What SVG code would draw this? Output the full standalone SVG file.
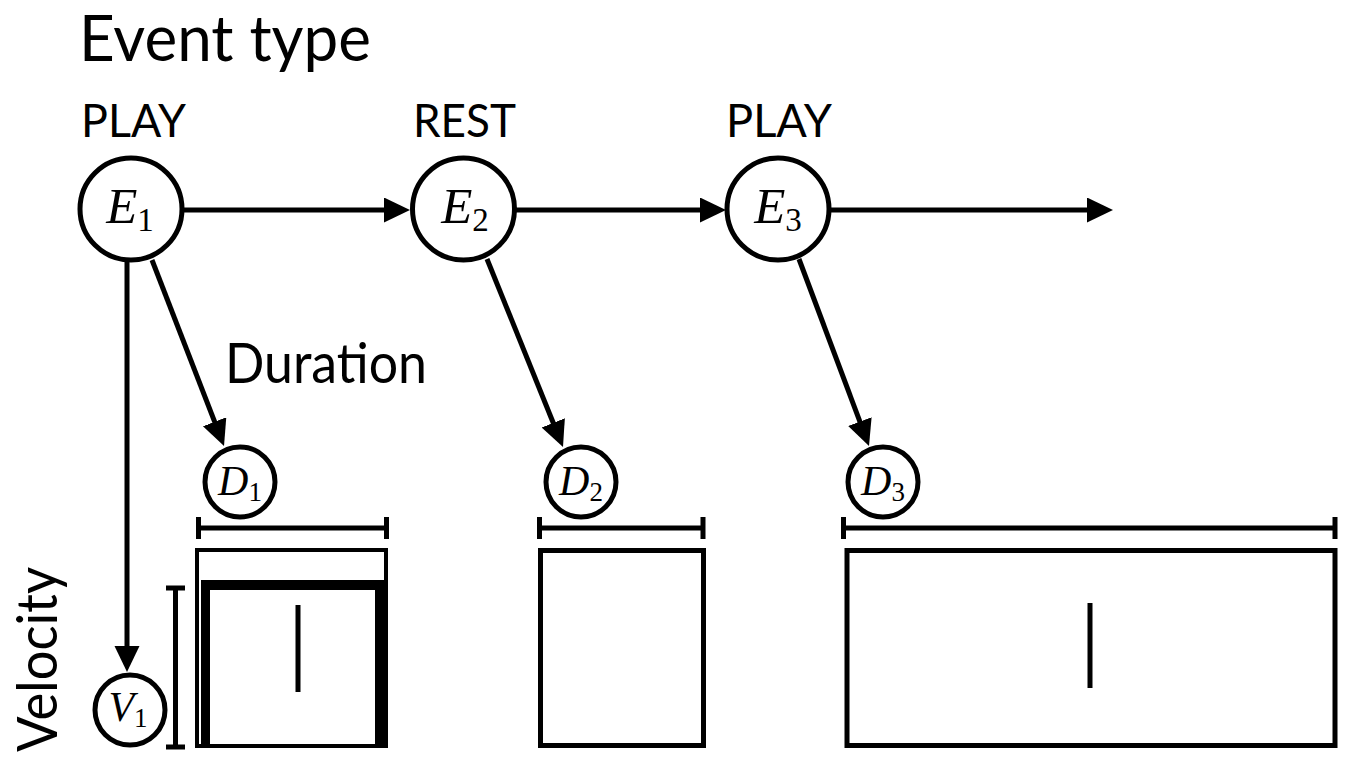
<svg xmlns="http://www.w3.org/2000/svg" width="1347" height="757" viewBox="0 0 1347 757">
<style>
.sans{font-family:Lato,"Open Sans","Liberation Sans",sans-serif;fill:#000}
.m{font-family:"Liberation Serif","DejaVu Serif",serif;fill:#000}
.it{font-style:italic}
.node{fill:#fff;stroke:#000;stroke-width:5}
.edge{fill:none;stroke:#000;stroke-width:5}
.bar{fill:none;stroke:#000;stroke-width:5}
.box{fill:#fff;stroke:#000;stroke-width:5}
</style>
<defs>
<marker id="ah" markerUnits="userSpaceOnUse" markerWidth="27" markerHeight="26" refX="16" refY="12.5" orient="auto">
<path d="M0,0 L26,12.5 L0,25 z" fill="#000"/>
</marker>
</defs>
<rect width="1347" height="757" fill="#fff"/>
<text class="sans" x="79" y="61" font-size="64" textLength="292" lengthAdjust="spacingAndGlyphs">Event type</text>
<g id="connectors">
<line class="edge" x1="182" y1="210" x2="400" y2="210" marker-end="url(#ah)"/>
<line class="edge" x1="515" y1="210" x2="716" y2="210" marker-end="url(#ah)"/>
<line class="edge" x1="829" y1="210" x2="1103" y2="210" marker-end="url(#ah)"/>
<line class="edge" x1="127" y1="262" x2="127" y2="662" marker-end="url(#ah)"/>
<line class="edge" x1="152" y1="260" x2="220.4" y2="436.7" marker-end="url(#ah)"/>
<line class="edge" x1="487" y1="259" x2="559.25" y2="437.7" marker-end="url(#ah)"/>
<line class="edge" x1="799" y1="259" x2="865.5" y2="436.6" marker-end="url(#ah)"/>
</g>
<g id="E1">
<text class="sans" x="81" y="137" font-size="47" textLength="105" lengthAdjust="spacingAndGlyphs">PLAY</text>
<circle class="node" cx="131" cy="209" r="51"/>
<text class="m" x="130" y="223" font-size="51" text-anchor="middle"><tspan class="it">E</tspan><tspan font-size="33" dy="8">1</tspan></text>
</g>
<g id="E2">
<text class="sans" x="413" y="137" font-size="47" textLength="103" lengthAdjust="spacingAndGlyphs">REST</text>
<circle class="node" cx="463.5" cy="209" r="51"/>
<text class="m" x="465" y="223" font-size="51" text-anchor="middle"><tspan class="it">E</tspan><tspan font-size="33" dy="8">2</tspan></text>
</g>
<g id="E3">
<text class="sans" x="726" y="137" font-size="47" textLength="106" lengthAdjust="spacingAndGlyphs">PLAY</text>
<circle class="node" cx="778" cy="209" r="51"/>
<text class="m" x="778" y="223" font-size="51" text-anchor="middle"><tspan class="it">E</tspan><tspan font-size="33" dy="8">3</tspan></text>
</g>
<g id="duration-label">
<text class="sans" x="225" y="383" font-size="56" textLength="202" lengthAdjust="spacingAndGlyphs">Duration</text>
</g>
<g id="D1">
<circle class="node" cx="240" cy="482" r="35"/>
<text class="m" x="240" y="495" font-size="42" text-anchor="middle"><tspan class="it">D</tspan><tspan font-size="27" dy="6">1</tspan></text>
</g>
<g id="D2">
<circle class="node" cx="581" cy="482" r="35"/>
<text class="m" x="581" y="495" font-size="42" text-anchor="middle"><tspan class="it">D</tspan><tspan font-size="27" dy="6">2</tspan></text>
</g>
<g id="D3">
<circle class="node" cx="883" cy="482" r="35"/>
<text class="m" x="883" y="495" font-size="42" text-anchor="middle"><tspan class="it">D</tspan><tspan font-size="27" dy="6">3</tspan></text>
</g>
<g id="V1">
<circle class="node" cx="130" cy="710" r="35"/>
<text class="m" x="128" y="721" font-size="42" text-anchor="middle"><tspan class="it">V</tspan><tspan font-size="27" dy="6">1</tspan></text>
</g>
<g id="velocity-label">
<text class="sans" transform="translate(57,752) rotate(-90)" font-size="56" textLength="185" lengthAdjust="spacingAndGlyphs">Velocity</text>
<path class="bar" d="M175.5,588 V747 M166,588 H185 M166,747 H185"/>
</g>
<g id="ranges">
<path class="bar" d="M198.5,528 H386.5 M198.5,517 V539 M386.5,517 V539"/>
<path class="bar" d="M539.5,528 H703 M539.5,517 V539 M703,517 V539"/>
<path class="bar" d="M843.5,528 H1335 M843.5,517 V539 M1335,517 V539"/>
</g>
<g id="block1">
<rect x="197" y="550" width="189" height="196" fill="#fff" stroke="#000" stroke-width="4"/>
<rect x="201" y="580" width="185" height="10" fill="#000"/>
<rect x="201" y="580" width="9" height="166" fill="#000"/>
<rect x="375" y="580" width="11" height="166" fill="#000"/>
<line class="bar" x1="298" y1="605" x2="298" y2="692"/>
</g>
<g id="block2">
<rect class="box" x="540.5" y="550.5" width="163" height="195"/>
</g>
<g id="block3">
<rect class="box" x="847" y="550.5" width="488" height="195"/>
<line class="bar" x1="1090" y1="603" x2="1090" y2="688"/>
</g>
</svg>
